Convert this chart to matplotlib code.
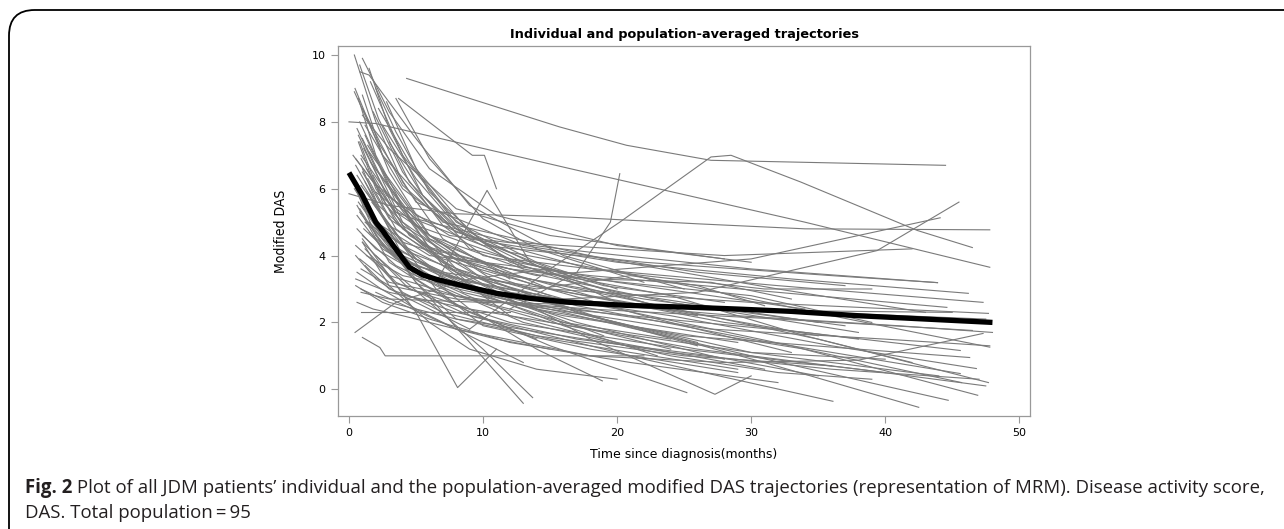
import matplotlib
matplotlib.use("Agg")
import matplotlib.pyplot as plt
from matplotlib.patches import FancyBboxPatch

# population-averaged trajectory (months, modified DAS)
mean_t = [0, 1, 2, 2.5, 3.3, 4.5, 5.5, 6.6, 9, 11, 13.5, 16.5, 20.7, 25.7, 29, 33, 38, 43, 48]
mean_y = [6.48, 5.8, 5.0, 4.75, 4.3, 3.65, 3.42, 3.28, 3.05, 2.87, 2.72, 2.6, 2.51, 2.45, 2.4, 2.33, 2.2, 2.1, 2.0]

# individual patients followed for a long time
long_paths = [
    ([4.3, 15.7, 20.7, 27.0, 44.5], [9.3, 7.85, 7.3, 6.85, 6.7]),
    ([0.0, 2.0, 16.5, 34.0, 47.8], [8.0, 7.95, 6.6, 5.0, 3.65]),
    ([9.0, 15.0, 20.2, 27.0, 28.5, 33.7, 42.4, 46.5], [1.8, 3.6, 5.0, 6.95, 7.0, 6.2, 4.75, 4.24]),
    ([0.0, 3.0, 8.0, 16.5, 26.0, 34.0, 47.8], [5.85, 5.5, 5.25, 5.15, 4.95, 4.8, 4.77]),
    ([0.6, 3.0, 8.0, 16.0, 26.0, 39.4, 45.5], [6.4, 4.9, 3.6, 2.7, 2.9, 4.15, 5.6]),
    ([0.8, 2.5, 6.0, 14.0, 30.0, 38.0, 44.1], [7.4, 5.6, 4.2, 3.4, 3.9, 4.6, 5.13]),
    ([1.2, 4.0, 9.0, 20.0, 33.0, 46.2], [7.9, 6.0, 4.5, 3.8, 3.3, 2.87]),
    ([0.5, 3.5, 10.0, 22.0, 36.0, 43.9], [6.9, 5.3, 4.3, 3.8, 3.4, 3.19]),
    ([1.0, 4.0, 8.0, 18.0, 32.0, 47.3], [8.4, 6.1, 4.7, 3.6, 3.1, 2.6]),
    ([0.7, 3.0, 7.0, 15.0, 30.0, 47.7], [5.6, 4.3, 3.5, 3.0, 2.6, 2.27]),
    ([1.5, 5.0, 12.0, 24.0, 36.0, 47.8], [7.1, 5.2, 4.1, 3.2, 2.2, 1.26]),
    ([0.9, 4.0, 11.0, 22.0, 35.0, 47.7], [6.1, 4.4, 3.5, 2.6, 1.5, 0.2]),
    ([1.1, 3.5, 9.0, 20.0, 33.0, 46.9], [4.8, 3.9, 3.2, 2.4, 1.3, -0.18]),
    ([0.6, 2.5, 7.0, 16.0, 30.0, 44.7], [5.2, 4.2, 3.1, 2.3, 1.0, -0.33]),
    ([1.3, 4.5, 10.0, 19.0, 31.0, 42.5], [6.6, 4.6, 3.3, 2.1, 0.8, -0.54]),
    ([0.5, 3.0, 8.0, 20.0, 34.0, 45.7], [4.3, 3.4, 2.8, 2.1, 1.2, 0.2]),
    ([0.8, 3.0, 9.0, 21.0, 34.0, 45.6], [3.9, 3.2, 2.7, 2.2, 1.7, 1.16]),
    ([1.0, 4.0, 12.0, 24.0, 36.0, 46.8], [5.5, 3.8, 2.9, 2.2, 1.3, 0.62]),
    ([0.4, 2.0, 6.0, 18.0, 32.0, 44.6], [6.0, 5.0, 4.0, 3.4, 2.9, 2.45]),
    ([0.9, 3.0, 8.0, 18.0, 32.0, 46.5], [3.6, 3.1, 2.7, 2.4, 2.1, 1.76]),
    ([2.0, 8.0, 18.0, 28.0, 38.0, 47.3], [2.9, 1.8, 1.0, 0.8, 0.87, 1.67]),
    ([1.2, 3.5, 9.0, 22.0, 36.1], [4.2, 3.2, 2.2, 0.9, -0.36]),
    ([0.7, 2.8, 7.5, 18.0, 30.0, 43.9], [7.6, 5.8, 4.6, 4.1, 3.6, 3.19]),
    ([0.3, 1.8, 5.0, 12.0, 28.0, 42.0], [7.0, 6.2, 5.1, 4.4, 4.0, 4.2]),
    ([1.5, 4.0, 9.0, 17.0, 27.0, 40.0, 47.8], [5.0, 4.0, 3.1, 2.4, 1.8, 1.5, 1.3]),
    ([0.5, 3.0, 9.0, 18.0, 30.0, 44.0], [3.3, 2.9, 2.4, 1.8, 1.1, 0.4]),
    ([1.0, 3.5, 8.0, 15.0, 26.0, 40.0], [4.6, 3.7, 2.8, 2.0, 1.2, 0.5]),
    ([0.8, 2.5, 6.5, 14.0, 25.0, 38.0, 46.3], [5.4, 4.3, 3.3, 2.4, 1.6, 1.2, 0.95]),
    ([1.4, 3.5, 8.0, 17.0, 30.0, 45.6], [6.3, 4.8, 3.5, 2.5, 1.5, 0.47]),
    ([0.6, 2.0, 6.0, 15.0, 28.0, 38.0], [7.8, 6.6, 4.5, 3.0, 2.0, 1.5]),
    ([1.0, 2.5, 7.0, 19.0, 32.0, 43.0], [8.8, 7.0, 5.0, 3.9, 3.0, 2.3]),
    ([0.9, 3.0, 8.0, 16.0, 24.0, 36.0, 47.0], [3.0, 2.6, 2.1, 1.6, 1.1, 0.6, 0.3]),
    ([2.0, 6.0, 13.0, 24.0, 34.0, 42.0], [5.9, 4.6, 3.6, 2.8, 1.6, 0.8]),
    ([0.5, 2.2, 5.5, 12.0, 24.0, 38.0], [6.7, 5.5, 4.3, 3.6, 2.6, 1.7]),
    ([1.3, 4.0, 10.0, 22.0, 35.0, 47.5], [4.0, 3.4, 2.9, 2.5, 2.3, 2.1]),
    ([0.8, 3.0, 9.0, 20.0, 30.0, 40.0], [5.3, 4.1, 3.0, 2.0, 1.1, 0.9]),
    ([1.6, 5.0, 12.0, 22.0, 31.0, 39.0], [6.8, 4.9, 3.9, 3.4, 3.0, 3.0]),
    ([1.0, 4.5, 12.0, 25.0, 38.0, 47.5], [4.4, 3.0, 2.0, 1.2, 0.6, 0.1]),
    ([0.4, 2.0, 5.0, 13.0, 26.0, 37.0], [8.9, 7.5, 5.6, 4.3, 3.5, 3.1]),
    ([1.2, 3.0, 8.0, 17.0, 27.0, 35.0], [3.7, 3.0, 2.3, 1.5, 1.0, 0.4]),
    ([0.7, 2.5, 7.0, 17.0, 29.0, 41.0, 48.0], [5.8, 4.5, 3.4, 2.6, 2.2, 1.9, 1.7]),
    ([0.9, 3.0, 10.0, 21.0, 33.0, 45.0], [2.9, 2.7, 2.6, 2.5, 2.35, 2.3]),
    ([1.5, 5.0, 13.0, 24.0, 32.0, 39.0], [4.7, 3.4, 2.0, 1.0, 0.5, 0.3]),
    ([1.1, 3.5, 9.0, 18.0, 28.0, 35.0], [7.2, 5.3, 3.8, 2.8, 2.1, 1.6]),
]

# individual patients with shorter follow-up
short_paths = [
    ([3.7, 9.2, 10.1, 11.0], [8.7, 7.0, 7.0, 6.0]),
    ([12.0, 17.0, 19.5, 20.2], [2.4, 3.5, 5.0, 6.45]),
    ([6.5, 10.3, 13.5, 20.0], [3.2, 5.95, 3.8, 2.6]),
    ([0.45, 3.0, 6.0, 10.0, 15.0], [9.0, 6.5, 4.6, 3.5, 2.8]),
    ([0.4, 2.0, 4.0, 7.0, 12.0], [10.0, 8.0, 6.2, 4.5, 3.3]),
    ([1.0, 3.0, 6.0, 11.0, 20.0, 30.0], [9.9, 8.3, 6.6, 5.2, 4.3, 3.8]),
    ([0.8, 1.5, 5.0, 9.0, 16.0, 25.0], [9.5, 9.4, 7.5, 5.5, 4.0, 3.0]),
    ([3.5, 6.0, 10.0, 14.0, 22.0], [8.7, 6.9, 5.1, 4.2, 3.2]),
    ([1.0, 3.0, 8.0, 15.0, 28.0], [8.2, 7.2, 5.4, 4.6, 3.9]),
    ([0.45, 3.5, 9.0, 15.0], [1.7, 2.6, 3.3, 3.6]),
    ([1.0, 2.3, 2.7, 10.0, 22.0], [1.55, 1.25, 1.0, 1.0, 1.0]),
    ([1.0, 5.0, 8.1, 11.0], [4.5, 2.3, 0.05, 1.2]),
    ([2.0, 6.0, 10.0, 13.7], [4.0, 2.6, 1.2, -0.25]),
    ([1.5, 5.0, 9.0, 13.0], [5.0, 3.2, 1.4, -0.42]),
    ([0.9, 4.0, 8.0, 12.0], [2.3, 2.3, 2.3, 2.3]),
    ([1.2, 4.0, 9.0, 14.0, 18.9], [6.2, 4.0, 2.4, 1.2, 0.25]),
    ([0.6, 3.0, 8.0, 15.0, 25.2], [5.5, 3.8, 2.5, 1.3, -0.1]),
    ([1.0, 4.0, 10.0, 18.0, 27.3, 30.0], [7.5, 5.0, 3.3, 1.5, -0.15, 0.4]),
    ([1.8, 4.0, 7.0, 10.0, 20.0, 34.0], [8.3, 6.5, 4.9, 4.0, 3.2, 2.4]),
    ([0.7, 2.0, 4.0, 7.0, 15.0, 26.0], [7.4, 6.0, 4.8, 3.9, 3.0, 2.2]),
    ([1.5, 3.0, 5.5, 9.0, 18.0, 30.0, 39.0], [9.6, 7.8, 5.8, 4.2, 3.3, 2.8, 2.0]),
    ([2.5, 5.0, 8.0, 13.0], [7.9, 6.3, 4.9, 3.6]),
    ([0.5, 2.0, 5.0, 9.0, 14.0], [6.0, 4.6, 3.3, 2.3, 1.5]),
    ([0.8, 3.0, 6.0, 10.0, 16.0, 24.0], [8.0, 6.1, 4.2, 2.8, 2.0, 1.2]),
    ([1.2, 3.5, 7.0, 12.0, 20.0, 31.0], [7.6, 5.6, 3.7, 2.2, 1.4, 0.6]),
    ([2.2, 4.5, 8.0, 14.0, 20.0], [8.4, 6.8, 5.0, 3.8, 3.0]),
    ([1.0, 2.5, 5.0, 8.5, 16.0, 29.0], [6.6, 5.2, 3.9, 2.9, 2.2, 1.4]),
    ([0.6, 2.0, 5.5, 10.0, 16.0, 24.0], [4.8, 4.2, 3.4, 2.6, 2.0, 1.5]),
    ([1.4, 4.0, 8.0, 13.0, 19.0], [5.2, 4.3, 3.5, 2.5, 1.6]),
    ([0.9, 2.8, 6.0, 11.0, 17.0, 26.0], [7.0, 5.9, 4.5, 3.2, 2.3, 1.3]),
    ([1.6, 4.0, 7.5, 12.0, 20.0, 35.0], [9.2, 7.0, 5.2, 3.8, 2.9, 2.0]),
    ([2.8, 5.0, 9.0, 15.0, 22.0], [8.6, 6.6, 4.7, 3.5, 2.6]),
    ([0.5, 2.5, 6.0, 12.0, 21.0, 32.0], [3.1, 2.6, 2.1, 1.4, 0.8, 0.2]),
    ([1.0, 3.0, 6.0, 9.0, 14.0, 20.0], [4.4, 3.1, 2.0, 1.2, 0.6, 0.3]),
    ([1.3, 3.2, 6.5, 10.0, 18.0, 29.0], [5.9, 4.7, 3.0, 1.9, 1.2, 0.5]),
    ([0.6, 2.4, 5.0, 9.0, 13.0], [3.5, 3.0, 2.4, 1.6, 0.8]),
    ([1.8, 4.0, 8.0, 14.0, 22.0, 33.0], [6.4, 4.9, 3.9, 3.1, 2.2, 1.1]),
    ([0.7, 2.0, 4.5, 8.0, 12.0], [8.7, 7.0, 5.1, 3.6, 2.7]),
    ([2.0, 3.5, 6.0, 10.0, 17.0], [9.0, 7.7, 5.9, 4.4, 3.3]),
    ([1.1, 2.6, 6.0, 11.0, 17.0, 28.0], [5.6, 4.7, 3.7, 2.8, 2.0, 0.9]),
    ([0.9, 3.5, 7.0, 12.0, 19.0, 26.0], [6.9, 5.0, 3.8, 2.9, 2.1, 1.4]),
    ([2.4, 5.0, 9.0, 16.0, 23.0], [4.9, 3.9, 3.0, 1.9, 1.0]),
    ([1.4, 3.0, 6.0, 12.0, 22.0, 37.0], [7.3, 6.2, 4.6, 3.4, 2.7, 1.9]),
    ([0.5, 2.0, 3.5, 6.0, 9.0], [4.0, 3.3, 2.9, 2.4, 1.8]),
    ([1.0, 3.0, 7.0, 12.0, 18.0, 27.0, 33.0], [6.5, 5.1, 4.0, 3.6, 3.3, 3.2, 2.7]),
    ([0.8, 2.2, 4.5, 8.0, 13.0, 19.0, 28.0], [9.7, 8.1, 6.2, 4.8, 3.8, 3.1, 2.6]),
    ([3.0, 5.5, 9.0, 13.0, 18.0, 24.0], [7.4, 5.8, 4.5, 3.7, 3.0, 2.4]),
    ([1.2, 2.8, 5.0, 8.0, 14.0, 25.0, 36.0], [5.0, 4.4, 3.2, 2.1, 1.6, 1.0, 0.7]),
    ([0.6, 1.8, 4.0, 7.0, 11.0, 15.0], [2.6, 2.4, 2.2, 1.9, 1.5, 1.2]),
    ([2.0, 4.0, 7.0, 11.0, 15.0, 21.0, 29.0], [3.8, 2.9, 2.3, 1.9, 1.5, 1.1, 0.6]),
    ([1.7, 4.5, 9.0, 14.0, 21.0, 26.0, 31.0], [5.6, 4.1, 3.4, 3.0, 3.4, 3.1, 2.5]),
]

x_ticks = [0, 10, 20, 30, 40, 50]
y_ticks = [0, 2, 4, 6, 8, 10]

title = "Individual and population-averaged trajectories"
xlabel = "Time since diagnosis(months)"
ylabel = "Modified DAS"
caption_bold = "Fig. 2"
caption_line1 = (" Plot of all JDM patients\u2019 individual and the population-averaged "
                 "modified DAS trajectories (representation of MRM). Disease activity score,")
caption_line2 = "DAS. Total population\u2009=\u200995"

W, H = 1284, 529
fig = plt.figure(figsize=(W / 100, H / 100), dpi=100)

# rounded frame round the whole figure panel
frame = FancyBboxPatch((9 / W, -0.2), 1.2, 1 - 10 / H + 0.2,
                       boxstyle="round,pad=0,rounding_size=0.02",
                       transform=fig.transFigure, fill=False,
                       edgecolor="black", linewidth=1.3, mutation_aspect=W / H)
fig.patches.append(frame)

ax = fig.add_axes([338 / W, 1 - 416 / H, (1030 - 338) / W, (416 - 46) / H])
grey = "#7a7a7a"
for t, y in long_paths + short_paths:
    ax.plot(t, y, color=grey, linewidth=0.8)
ax.plot(mean_t, mean_y, color="black", linewidth=3.8, solid_capstyle="butt")

ax.set_xlim(-0.82, 50.8)
ax.set_ylim(-0.8, 10.27)
ax.set_xticks(x_ticks)
ax.set_yticks(y_ticks)
for s in ax.spines.values():
    s.set_color("#999999")
    s.set_linewidth(0.9)
ax.tick_params(colors="#999999", labelcolor="black", labelsize=8, length=5, width=0.8, pad=4)

ax.set_title(title, fontsize=9.3, fontweight="bold", pad=6)
ax.set_xlabel(xlabel, fontsize=9, labelpad=7)
ax.set_ylabel(ylabel, fontsize=10, family="DejaVu Sans", fontstretch="condensed", labelpad=17)

cap_font = ["Open Sans", "DejaVu Sans"]
cb = fig.text(25 / W, 1 - 493 / H, caption_bold, fontsize=13.4, fontweight="bold",
              family=cap_font, color="#231f20", va="baseline")
fig.canvas.draw()
bb = cb.get_window_extent()
fig.text(bb.x1 / W, 1 - 493 / H, caption_line1, fontsize=13.4, family=cap_font,
         color="#231f20", va="baseline")
fig.text(25 / W, 1 - 518 / H, caption_line2, fontsize=13.4, family=cap_font,
         color="#231f20", va="baseline")

fig.savefig("out.png", dpi=100)
